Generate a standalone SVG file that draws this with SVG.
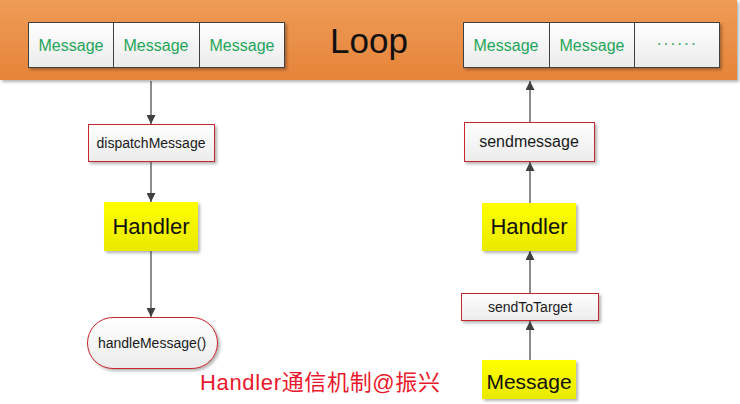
<svg xmlns="http://www.w3.org/2000/svg" width="740" height="404" viewBox="0 0 740 404">
<defs>
<linearGradient id="gOrange" x1="0" y1="0" x2="0" y2="1">
<stop offset="0" stop-color="#EE9B56"/>
<stop offset="1" stop-color="#E6843A"/>
</linearGradient>
<linearGradient id="gWhite" x1="0" y1="0" x2="0" y2="1">
<stop offset="0" stop-color="#FFFFFF"/>
<stop offset="1" stop-color="#EBEBEB"/>
</linearGradient>
<linearGradient id="gYellow" x1="0" y1="0" x2="0" y2="1">
<stop offset="0" stop-color="#FFFF00"/>
<stop offset="1" stop-color="#E9E900"/>
</linearGradient>
<filter id="sh" x="-10%" y="-10%" width="125%" height="140%">
<feGaussianBlur in="SourceAlpha" stdDeviation="1.5"/>
<feOffset dx="1.5" dy="2" result="b"/>
<feComponentTransfer><feFuncA type="linear" slope="0.3"/></feComponentTransfer>
<feMerge><feMergeNode/><feMergeNode in="SourceGraphic"/></feMerge>
</filter>
<marker id="arr" viewBox="0 0 10 10" refX="10" refY="5" markerWidth="9" markerHeight="9" markerUnits="userSpaceOnUse" orient="auto">
<path d="M0,0 L10,5 L0,10 Z" fill="#404040"/>
</marker>
<style>
.msg{fill:url(#gWhite);stroke:#404040;stroke-width:1}
.msgt{font-family:"Liberation Sans",Arial,sans-serif;font-size:16px;fill:#1FA55A;text-anchor:middle}
.rbox{fill:url(#gWhite);stroke:#C8262E;stroke-width:1}
.lbl{font-family:"Liberation Sans",Arial,sans-serif;font-size:14px;fill:#1A1A1A;text-anchor:middle}
.ybox{fill:url(#gYellow)}
.ylbl{font-family:"Liberation Sans",Arial,sans-serif;font-size:22px;fill:#111111;text-anchor:middle}
.conn{stroke:#404040;stroke-width:1.2;fill:none;marker-end:url(#arr)}
</style>
</defs>

<g id="loop">
<rect x="0" y="0" width="737" height="80" fill="url(#gOrange)" filter="url(#sh)"/>
<text x="369" y="53" font-family="Liberation Sans,Arial,sans-serif" font-size="35" fill="#111111" text-anchor="middle">Loop</text>
</g>

<g id="msg-queue-left" filter="url(#sh)">
<rect class="msg" x="28.5" y="22.5" width="85" height="45"/>
<rect class="msg" x="113.5" y="22.5" width="86" height="45"/>
<rect class="msg" x="199.5" y="22.5" width="85" height="45"/>
</g>
<g id="msg-queue-left-text">
<text class="msgt" x="71" y="51">Message</text>
<text class="msgt" x="156" y="51">Message</text>
<text class="msgt" x="242" y="51">Message</text>
</g>

<g id="msg-queue-right" filter="url(#sh)">
<rect class="msg" x="463.5" y="22.5" width="86" height="45"/>
<rect class="msg" x="549.5" y="22.5" width="85" height="45"/>
<rect class="msg" x="634.5" y="22.5" width="85" height="45"/>
</g>
<g id="msg-queue-right-text">
<text class="msgt" x="677" y="49" style="letter-spacing:1.5px">······</text>
<text class="msgt" x="506" y="51">Message</text>
<text class="msgt" x="592" y="51">Message</text>
</g>

<g id="dispatchMessage">
<rect class="rbox" x="88.5" y="124.5" width="126" height="37" filter="url(#sh)"/>
<text class="lbl" x="151" y="148">dispatchMessage</text>
</g>

<g id="handler-left">
<rect class="ybox" x="104" y="202" width="94" height="49" filter="url(#sh)"/>
<text class="ylbl" x="151" y="234">Handler</text>
</g>

<g id="handleMessage">
<rect class="rbox" x="87.5" y="317.5" width="130" height="51" rx="25.5" ry="25.5" filter="url(#sh)"/>
<text class="lbl" x="152" y="348">handleMessage()</text>
</g>

<g id="sendmessage">
<rect class="rbox" x="464.5" y="122.5" width="130" height="39" filter="url(#sh)"/>
<text class="lbl" x="529" y="147" style="font-size:16px">sendmessage</text>
</g>

<g id="handler-right">
<rect class="ybox" x="482" y="203" width="94" height="48" filter="url(#sh)"/>
<text class="ylbl" x="529" y="234">Handler</text>
</g>

<g id="sendToTarget">
<rect class="rbox" x="461.5" y="293.5" width="137" height="27" filter="url(#sh)"/>
<text class="lbl" x="530" y="312">sendToTarget</text>
</g>

<g id="message">
<rect class="ybox" x="482" y="360" width="94" height="39" filter="url(#sh)"/>
<text class="ylbl" x="529" y="389" style="font-size:21px">Message</text>
</g>

<g id="connectors">
<line class="conn" x1="151" y1="81" x2="151" y2="124"/>
<line class="conn" x1="151" y1="162" x2="151" y2="202"/>
<line class="conn" x1="151" y1="251" x2="151" y2="317"/>
<line class="conn" x1="530" y1="122" x2="530" y2="81"/>
<line class="conn" x1="530" y1="203" x2="530" y2="162"/>
<line class="conn" x1="530" y1="293" x2="530" y2="251"/>
<line class="conn" x1="530" y1="360" x2="530" y2="321"/>
</g>

<text id="watermark" x="200" y="390" font-family="Liberation Sans,Noto Sans CJK SC,sans-serif" font-size="22" fill="#E8192C" textLength="240">Handler通信机制@振兴</text>
</svg>
